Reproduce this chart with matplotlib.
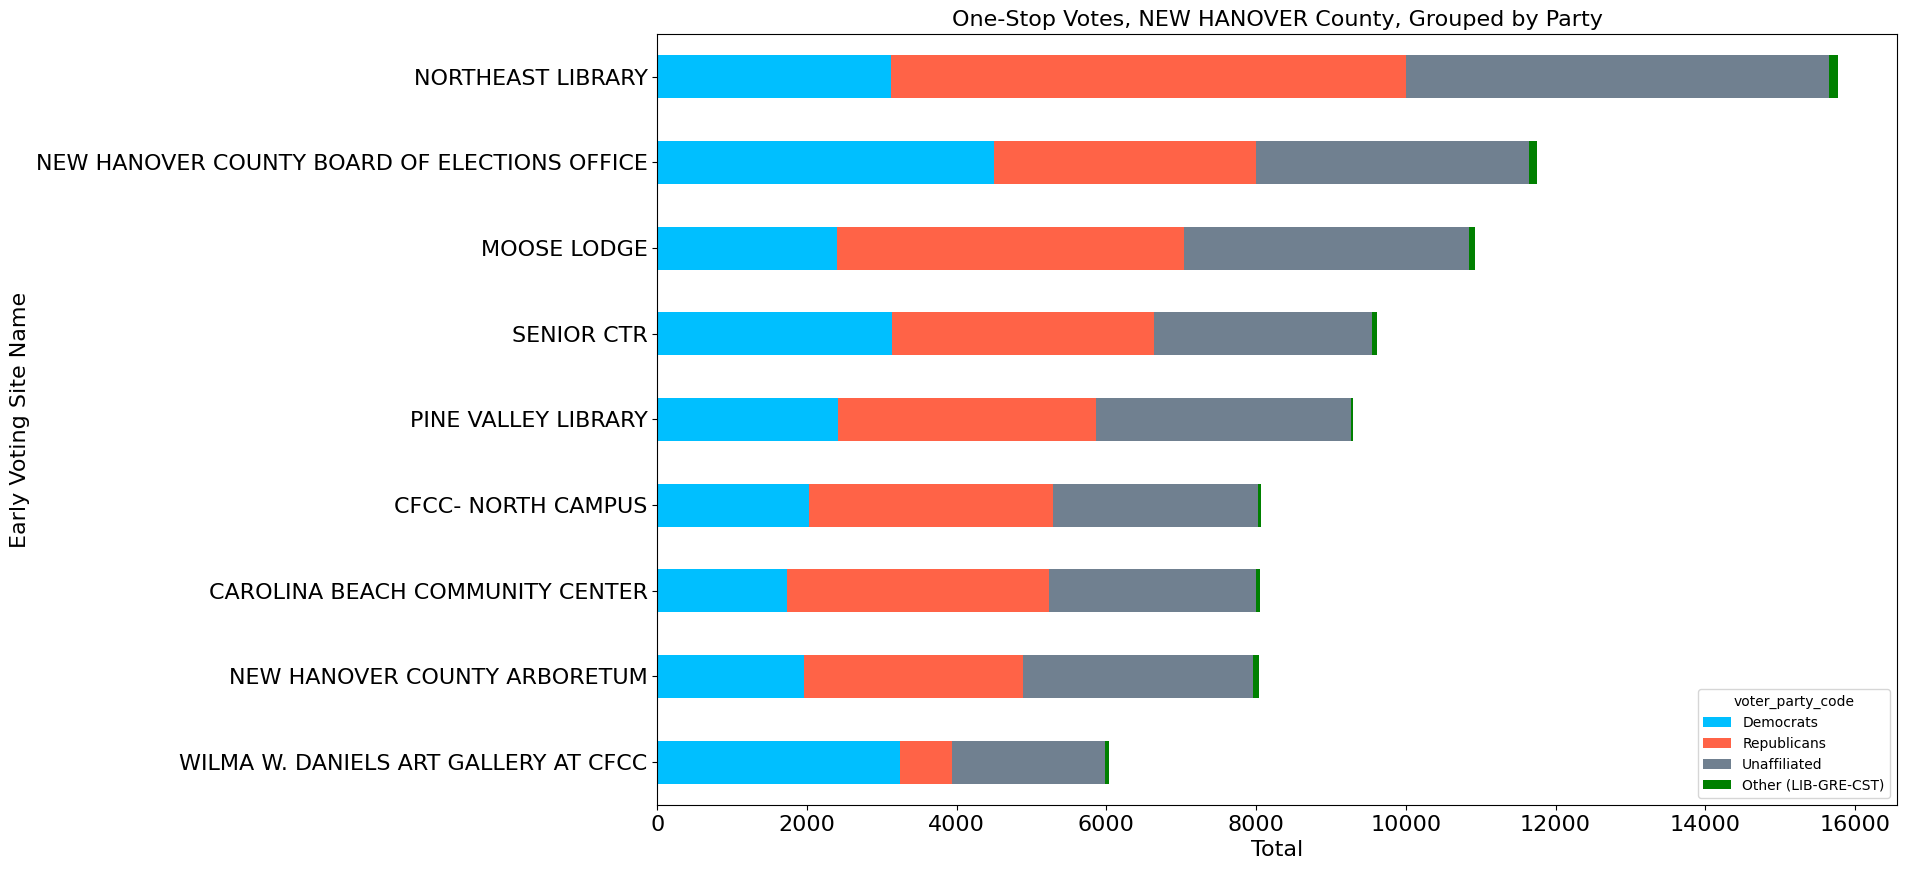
import matplotlib
matplotlib.use("Agg")
import matplotlib.pyplot as plt
import numpy as np

sites = [
    "NORTHEAST LIBRARY",
    "NEW HANOVER COUNTY BOARD OF ELECTIONS OFFICE",
    "MOOSE LODGE",
    "SENIOR CTR",
    "PINE VALLEY LIBRARY",
    "CFCC- NORTH CAMPUS",
    "CAROLINA BEACH COMMUNITY CENTER",
    "NEW HANOVER COUNTY ARBORETUM",
    "WILMA W. DANIELS ART GALLERY AT CFCC",
]
democrats = [3121, 4503, 2397, 3132, 2419, 2030, 1728, 1965, 3240]
republicans = [6879, 3499, 4644, 3499, 3445, 3251, 3499, 2916, 691]
unaffiliated = [5659, 3650, 3801, 2915, 3402, 2743, 2775, 3078, 2052]
other = [116, 95, 87, 65, 30, 43, 54, 76, 54]

series_names = ["Democrats", "Republicans", "Unaffiliated", "Other (LIB-GRE-CST)"]
colors = ["#00BFFF", "#FF6347", "#708090", "#008000"]

fig = plt.figure(figsize=(19.07, 8.69), dpi=100)
ax = fig.add_axes([0.3447, 0.0737, 0.9948 - 0.3447, 0.9609 - 0.0737])

# bottom-to-top order (smallest total at bottom)
labels = sites[::-1]
data = [np.array(s[::-1], dtype=float) for s in (democrats, republicans, unaffiliated, other)]
y = np.arange(len(labels))
left = np.zeros(len(labels))
for vals, name, c in zip(data, series_names, colors):
    ax.barh(y, vals, left=left, height=0.5, color=c, label=name)
    left = left + vals

ax.set_ylim(-0.5, len(labels) - 0.5)
ax.set_xlim(0, left.max() * 1.05)
ax.set_yticks(y)
ax.set_yticklabels(labels, fontsize=16)
ax.tick_params(axis="x", labelsize=16)
ax.set_xlabel("Total", fontsize=16)
ax.set_ylabel("Early Voting Site Name", fontsize=16)
ax.set_title("One-Stop Votes, NEW HANOVER County, Grouped by Party", fontsize=16)
ax.legend(title="voter_party_code", loc="lower right", fontsize=10, title_fontsize=10)

fig.savefig("out.png", dpi=100)
